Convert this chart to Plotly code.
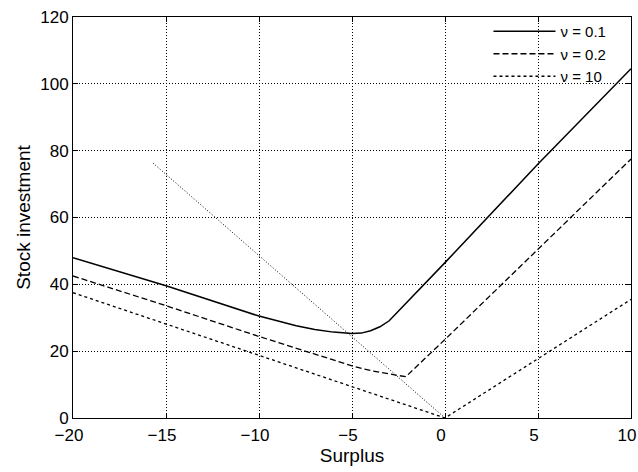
import plotly.graph_objects as go

# Data
x_nu01 = [-20, -15, -10, -8, -7, -6, -5, -4.5, -4, -3.5, -3, 0, 5, 10]
y_nu01 = [48, 39.6, 30.5, 27.6, 26.5, 25.7, 25.3, 25.4, 26.1, 27.3, 29.1, 46.5, 76, 104.5]

x_nu02 = [-20, -15, -10, -5, -4, -3, -2.5, -2.1, 0, 5, 10]
y_nu02 = [42.5, 33.6, 24.4, 15.6, 14.2, 13.1, 12.7, 12.4, 23.5, 50.5, 77.5]

x_nu10 = [-20, 0, 10]
y_nu10 = [37.5, 0, 35.5]

x_ref = [-15.7, 0]
y_ref = [76.3, 0]

names = ["ν = 0.1", "ν = 0.2", "ν = 10"]
x_ticks = [-20, -15, -10, -5, 0, 5, 10]
x_ticktext = ["\u221220", "\u221215", "\u221210", "\u22125", "0", "5", "10"]
y_ticks = [0, 20, 40, 60, 80, 100, 120]

fig = go.Figure()
fig.add_trace(go.Scatter(x=x_ref, y=y_ref, mode="lines", showlegend=False,
                         line=dict(color="black", width=1, dash="1px,2px")))
fig.add_trace(go.Scatter(x=x_nu01, y=y_nu01, mode="lines", name=names[0],
                         line=dict(color="black", width=1.5)))
fig.add_trace(go.Scatter(x=x_nu02, y=y_nu02, mode="lines", name=names[1],
                         line=dict(color="black", width=1.3, dash="6px,3px")))
fig.add_trace(go.Scatter(x=x_nu10, y=y_nu10, mode="lines", name=names[2],
                         line=dict(color="black", width=1.3, dash="3px,3px")))

axis_common = dict(showline=True, linecolor="black", linewidth=1, mirror="ticks",
                   ticks="inside", ticklen=5, tickcolor="black",
                   showgrid=True, gridcolor="black", gridwidth=1, griddash="1px,2px",
                   zeroline=False, tickfont=dict(size=17, color="black"),
                   ticklabeloverflow="allow", automargin=False)

fig.update_xaxes(range=[-20, 10], tickvals=x_ticks, ticktext=x_ticktext,
                 ticklabelstandoff=2, ticklabelshift=-4,
                 title=dict(text="Surplus", font=dict(size=19, color="black"), standoff=4),
                 **axis_common)
fig.update_yaxes(range=[0, 120], tickvals=y_ticks,
                 title=dict(text="Stock investment", font=dict(size=19, color="black"), standoff=4),
                 **axis_common)

fig.update_layout(
    width=638, height=472,
    margin=dict(l=73, r=7, t=17, b=54, autoexpand=False),
    paper_bgcolor="white", plot_bgcolor="white",
    font=dict(family="Liberation Sans, Arial, sans-serif", color="black"),
    legend=dict(x=0.965, y=1.005, xanchor="right", yanchor="top",
                bgcolor="rgba(255,255,255,0)", font=dict(size=15),
                tracegroupgap=0, itemwidth=62),
    showlegend=True,
)

fig.write_html("out.html")
